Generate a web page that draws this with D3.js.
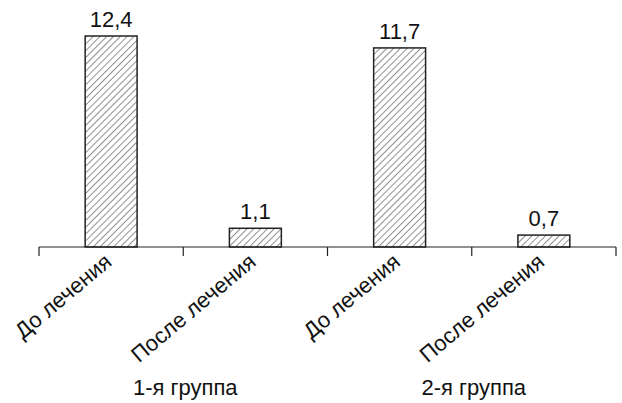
<!DOCTYPE html>
<html><head><meta charset="utf-8">
<script src="https://cdn.jsdelivr.net/npm/d3@7"></script>
<style>body{margin:0;background:#fff}text{font-family:"Liberation Sans",Arial,sans-serif;fill:#111}</style>
</head><body><svg id="c" width="622" height="403"></svg>
<script>
const categories = ["До лечения","После лечения","До лечения","После лечения"];
const groups = ["1-я группа","2-я группа"];
const values = [12.4, 1.1, 11.7, 0.7];
const valueLabels = ["12,4","1,1","11,7","0,7"];

const svg = d3.select("#c");
const left = 39, right = 616, baseY = 247, topY = 36;
const idx = d3.range(categories.length);
const x = d3.scaleBand().domain(idx).range([left, right]).paddingInner(0.64).paddingOuter(0.32);
const y = d3.scaleLinear().domain([0, d3.max(values)]).range([baseY, topY]);

const defs = svg.append("defs");
const pat = defs.append("pattern").attr("id","hatch").attr("patternUnits","userSpaceOnUse")
  .attr("width",4.8).attr("height",4.8).attr("patternTransform","rotate(45)");
pat.append("rect").attr("width",4.8).attr("height",4.8).attr("fill","#fff");
pat.append("line").attr("x1",0).attr("y1",0).attr("x2",0).attr("y2",4.8).attr("stroke","#222").attr("stroke-width",1);

svg.selectAll("rect.bar").data(values).join("rect").attr("class","bar")
  .attr("x",(d,i)=>x(i)).attr("width",x.bandwidth())
  .attr("y",d=>y(d)).attr("height",d=>baseY-y(d))
  .attr("fill","url(#hatch)").attr("stroke","#222").attr("stroke-width",1.5);

svg.selectAll("text.val").data(values).join("text").attr("class","val")
  .attr("x",(d,i)=>x(i)+x.bandwidth()/2).attr("y",d=>y(d)-9)
  .attr("text-anchor","middle").attr("font-size",22).text((d,i)=>valueLabels[i]);

// axis
const step = x.step();
svg.append("line").attr("x1",left).attr("x2",right).attr("y1",baseY).attr("y2",baseY).attr("stroke","#222").attr("stroke-width",1.2);
svg.selectAll("line.tick").data(d3.range(categories.length+1)).join("line").attr("class","tick")
  .attr("x1",i=>left+i*step).attr("x2",i=>left+i*step).attr("y1",baseY).attr("y2",baseY+9)
  .attr("stroke","#222").attr("stroke-width",1.2);

svg.selectAll("text.cat").data(categories).join("text").attr("class","cat")
  .attr("text-anchor","end").attr("font-size",22)
  .attr("transform",(d,i)=>`translate(${x(i)+x.bandwidth()/2+2},${baseY+17}) rotate(-40)`)
  .text(d=>d);

svg.selectAll("text.grp").data(groups).join("text").attr("class","grp")
  .attr("x",(d,i)=>left+(2*i+1)*step+2).attr("y",395)
  .attr("text-anchor","middle").attr("font-size",22).text(d=>d);
</script></body></html>
